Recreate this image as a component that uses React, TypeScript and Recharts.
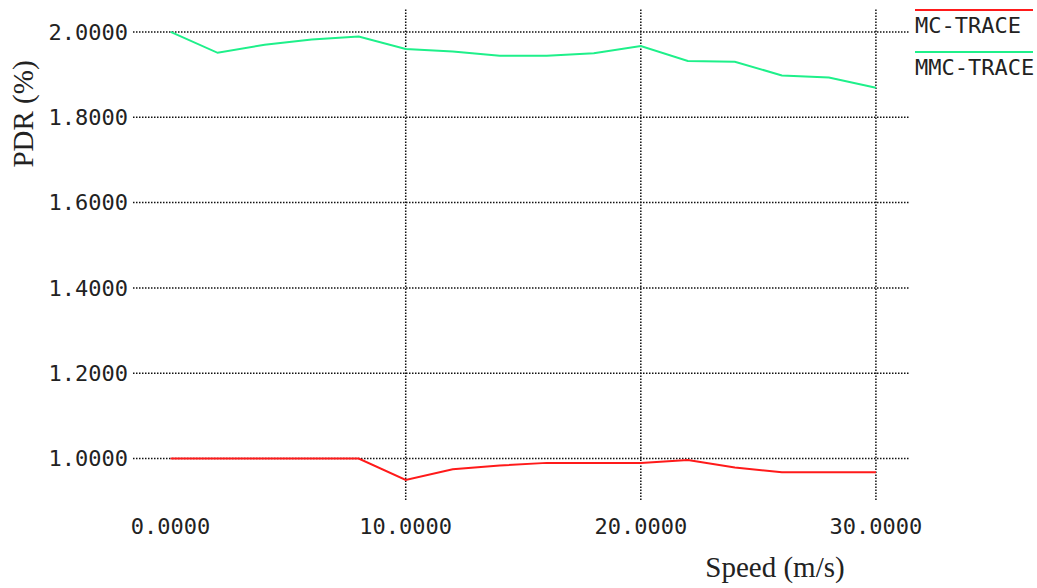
import { LineChart, Line, XAxis, YAxis, ReferenceLine, Legend, Label } from 'recharts';

const speeds = [0, 2, 4, 6, 8, 10, 12, 14, 16, 18, 20, 22, 24, 26, 28, 30];
const mcTrace = [1.0, 1.0, 1.0, 1.0, 1.0, 0.95, 0.975, 0.984, 0.99, 0.99, 0.99, 0.997, 0.979, 0.968, 0.968, 0.968];
const mmcTrace = [2.0, 1.951, 1.97, 1.982, 1.989, 1.96, 1.954, 1.944, 1.944, 1.95, 1.967, 1.932, 1.93, 1.898, 1.893, 1.869];
const xTicks = [0, 10, 20, 30];
const yTicks = [1.0, 1.2, 1.4, 1.6, 1.8, 2.0];
const vGrid = [10, 20, 30];

const MC_COLOR = '#ff1a1a';
const MMC_COLOR = '#1ef08a';
const MONO = '"DejaVu Sans Mono", monospace';
const SERIF = '"Liberation Serif", serif';
const GRID = { stroke: '#111', strokeWidth: 1.5, strokeDasharray: '1.5 1.5' };

const data = speeds.map((s, i) => ({ speed: s, mc: mcTrace[i], mmc: mmcTrace[i] }));

function TraceLegend({ payload }: { payload?: { value: string; color: string }[] }) {
  return (
    <div style={{ fontFamily: MONO, fontSize: 22, color: '#222' }}>
      {payload?.map((p) => (
        <div
          key={p.value}
          style={{
            width: 118,
            whiteSpace: 'nowrap',
            borderTop: `2px solid ${p.color}`,
            paddingTop: 3,
            lineHeight: '24px',
            marginBottom: 13,
          }}
        >
          {p.value}
        </div>
      ))}
    </div>
  );
}

const titleStyle = { fontFamily: SERIF, fontSize: 29, fill: '#222' };

export default function App() {
  return (
    <div style={{ position: 'absolute', left: 0, top: 0, width: 1037, height: 588, background: '#fff' }}>
      <LineChart width={1037} height={588} data={data} margin={{ top: 8, right: 127, bottom: 38, left: 0 }}>
        {yTicks.map((y) => (
          <ReferenceLine key={`h${y}`} y={y} {...GRID} />
        ))}
        {vGrid.map((x) => (
          <ReferenceLine key={`v${x}`} x={x} {...GRID} />
        ))}
        <XAxis
          dataKey="speed"
          type="number"
          domain={[-1.6, 31.45]}
          ticks={xTicks}
          tickFormatter={(v: number) => v.toFixed(4)}
          axisLine={false}
          tickLine={false}
          tickSize={0}
          tickMargin={18}
          height={50}
          tick={{ fill: '#222', fontSize: 22, fontFamily: MONO }}
        >
          <Label
            content={() => (
              <text x={775} y={577} textAnchor="middle" style={titleStyle}>
                Speed (m/s)
              </text>
            )}
          />
        </XAxis>
        <YAxis
          type="number"
          domain={[0.903, 2.056]}
          ticks={yTicks}
          tickFormatter={(v: number) => v.toFixed(4)}
          axisLine={false}
          tickLine={false}
          tickSize={0}
          tickMargin={5}
          width={133}
          tick={{ fill: '#222', fontSize: 22, fontFamily: MONO }}
        >
          <Label
            content={() => (
              <text x={33} y={114} transform="rotate(-90 33 114)" textAnchor="middle" style={titleStyle}>
                PDR (%)
              </text>
            )}
          />
        </YAxis>
        <Legend
          layout="vertical"
          align="center"
          verticalAlign="middle"
          content={<TraceLegend />}
          wrapperStyle={{ left: 915, top: 9, width: 122 }}
        />
        <Line type="linear" dataKey="mc" name="MC-TRACE" stroke={MC_COLOR} strokeWidth={2} dot={false} isAnimationActive={false} />
        <Line type="linear" dataKey="mmc" name="MMC-TRACE" stroke={MMC_COLOR} strokeWidth={2} dot={false} isAnimationActive={false} />
      </LineChart>
    </div>
  );
}
